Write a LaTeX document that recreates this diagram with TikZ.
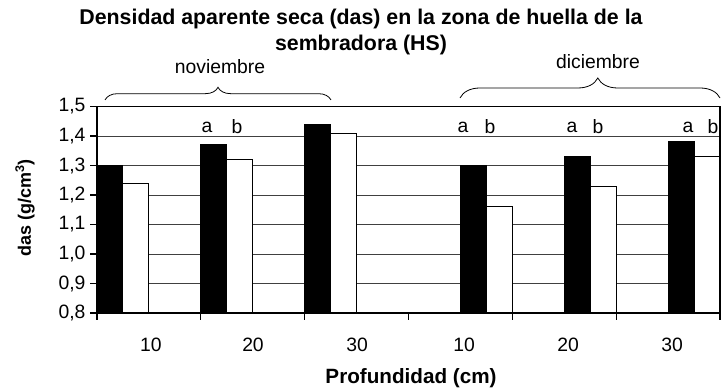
\documentclass[tikz,border=0pt]{standalone}
\usepackage{fontspec}
\setmainfont{Liberation Sans}
\usepackage{tikz}
\usetikzlibrary{positioning}
\usetikzlibrary{calc}
\usetikzlibrary{decorations.pathreplacing}

\tikzset{
  gridline/.style={draw=black!75, line width=0.5pt},
  axisline/.style={draw=black, line width=0.9pt},
  barblack/.style={fill=black, draw=black, line width=0.7pt},
  barwhite/.style={fill=white, draw=black, line width=0.7pt},
  bracket/.style={decorate, line width=0.6pt},
}

\begin{document}
\begin{tikzpicture}[x=0.75pt, y=-0.75pt, font=\fontsize{14.5}{17}\selectfont]
\useasboundingbox (0,0) rectangle (721,391);

\coordinate (origin) at (97,313);
\coordinate (corner) at (720,106.5);

% grid
\foreach \k in {1,...,6}
	\draw[gridline] (97,{313-\k*29.5}) -- (720,{313-\k*29.5});

% bars (nov in slots 0,1 ; dic in slots 2,3)
\foreach \i/\p/\va/\vb in {0/0/1.30/1.24, 1/0/1.37/1.32, 2/0/1.44/1.41,
                           3/2/1.30/1.16, 4/2/1.33/1.23, 5/2/1.38/1.33}
{
	\pgfmathsetmacro\xa{97+\i*103.83+\p*25.96}
	\draw[barblack] (\xa,313) rectangle ++(25.96,{-(\va-0.8)*295});
	\draw[barwhite] ({\xa+25.96},313) rectangle ++(25.96,{-(\vb-0.8)*295});
}

% frame and axes
\draw[axisline] (origin |- corner) -- (corner) -- (corner |- origin);
\draw[axisline] (origin |- corner) -- (origin) -- (corner |- origin);

% y ticks
\foreach \k/\a/\b in {0/0/8, 1/0/9, 2/1/0, 3/1/1, 4/1/2, 5/1/3, 6/1/4, 7/1/5}
{
	\draw[axisline] (90,{313-\k*29.5}) -- (97,{313-\k*29.5});
	\node[anchor=east, inner sep=1pt] (y\k) at (87,{313-\k*29.5}) {\a,\b};
}

% x ticks
\foreach \i in {0,...,6}
	\draw[axisline] ({97+\i*103.83},313) -- ++(0,7);

\foreach \x/\t [count=\n] in {151/10, 253/20, 357/30, 464/10, 568/20, 672/30}
	\node (c\n) at (\x,345) {\t};

% letters
\foreach \x/\t in {207/a, 237/b, 463/a, 490/b, 572/a, 598/b, 688/a, 713/b}
	\node (s\x) at (\x,127) {\t};

% axis titles
\node[font=\fontsize{15.5}{18}\selectfont\bfseries] (xtitle) at (411,378) {Profundidad (cm)};
\node[rotate=90, font=\fontsize{13.5}{16}\selectfont\bfseries] (ytitle) at (25,208) {das (g/cm\textsuperscript{3})};

% title
\node[align=center, font=\fontsize{16}{19.5}\selectfont\bfseries] (title) at (361,32)
	{Densidad aparente seca (das) en la zona de huella de la\\sembradora (HS)};

% months
\coordinate (nova) at (105,100);
\coordinate (novb) at (331,100);
\coordinate (dica) at (460,98);
\coordinate (dicb) at (720,98);

\draw[bracket, decoration={brace, amplitude=9.5pt}] (nova) -- (novb);
\draw[bracket, decoration={brace, amplitude=15pt, aspect=0.53}] (dica) -- (dicb);

\node (nov) at (220,67) {noviembre};
\node (dic) at (598,62) {diciembre};
%\node (dic) at ($(dica)!0.53!(dicb)+(0,-36)$) {diciembre};
\end{tikzpicture}
\end{document}
